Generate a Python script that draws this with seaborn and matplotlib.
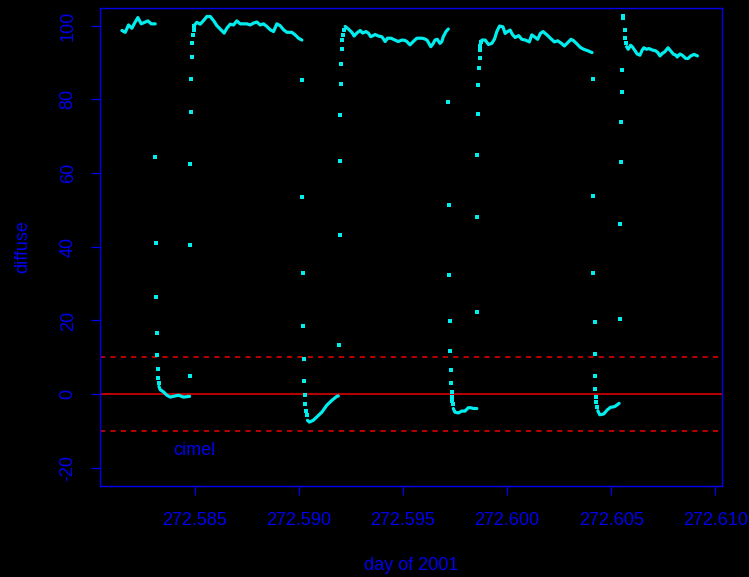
import numpy as np
import pandas as pd
import matplotlib
matplotlib.use("Agg")
import matplotlib.pyplot as plt
import seaborn as sns

# dense runs of samples (shadowband open / occulted)
top_1_day = [272.58151, 272.58167, 272.58183, 272.58199, 272.58212, 272.58228,
             272.58244, 272.58260, 272.58276, 272.58292, 272.58311]
top_1_diffuse = [98.7, 98.2, 100.2, 99.3, 100.7, 102.2, 100.5, 100.9, 101.3, 100.5, 100.5]

dip_1_day = [272.58329, 272.58335, 272.58351, 272.58367, 272.58383, 272.58399,
             272.58423, 272.58447, 272.58476]
dip_1_diffuse = [2.1, 1.2, 0.6, -0.3, -0.8, -0.6, -0.3, -0.8, -0.6]

top_2_day = [272.58500, 272.58511, 272.58527, 272.58543, 272.58559, 272.58575,
             272.58591, 272.58607, 272.58623, 272.58642, 272.58655, 272.58671,
             272.58687, 272.58703, 272.58719, 272.58751, 272.58767, 272.58783,
             272.58799, 272.58815, 272.58831, 272.58847, 272.58863, 272.58879,
             272.58895, 272.58911, 272.58927, 272.58943, 272.58967, 272.58983,
             272.58999, 272.59015]
top_2_diffuse = [100.2, 100.9, 100.4, 101.4, 102.5, 102.5, 101.4, 100.0, 99.1, 98.0,
                 99.3, 100.4, 100.2, 101.3, 100.5, 100.5, 100.2, 100.7, 101.0, 100.2,
                 100.5, 99.8, 98.9, 98.4, 100.5, 100.0, 98.9, 98.2, 98.2, 97.5,
                 96.6, 96.1]

dip_2_day = [272.59042, 272.59051, 272.59070, 272.59094, 272.59111, 272.59135,
             272.59159, 272.59183, 272.59190]
dip_2_diffuse = [-7.1, -7.6, -7.1, -5.8, -4.9, -3.0, -1.7, -0.6, -0.5]

top_3_day = [272.59223, 272.59238, 272.59255, 272.59266, 272.59279, 272.59295,
             272.59307, 272.59323, 272.59334, 272.59346, 272.59367, 272.59382,
             272.59399, 272.59415, 272.59426, 272.59443, 272.59462, 272.59478,
             272.59495, 272.59510, 272.59519, 272.59534, 272.59550, 272.59567,
             272.59591, 272.59606, 272.59617, 272.59634, 272.59646, 272.59654,
             272.59665, 272.59678, 272.59687, 272.59694, 272.59707, 272.59718]
top_3_diffuse = [99.8, 99.1, 98.2, 97.2, 98.0, 98.7, 98.0, 98.4, 98.0, 97.0,
                 97.6, 97.2, 97.0, 95.7, 96.6, 96.6, 96.1, 95.7, 96.1, 96.0,
                 95.7, 94.8, 95.7, 96.6, 96.6, 96.4, 96.0, 94.3, 95.2, 96.1,
                 96.3, 95.2, 95.7, 97.0, 98.4, 99.1]

dip_3_day = [272.59742, 272.59750, 272.59766, 272.59783, 272.59798, 272.59814,
             272.59826, 272.59838, 272.59855]
dip_3_diffuse = [-3.9, -4.9, -5.1, -4.6, -4.6, -3.7, -3.7, -3.9, -3.9]

top_4_day = [272.59879, 272.59895, 272.59911, 272.59927, 272.59940, 272.59951,
             272.59964, 272.59980, 272.59991, 272.60002, 272.60015, 272.60026,
             272.60039, 272.60056, 272.60071, 272.60088, 272.60107, 272.60119,
             272.60136, 272.60147, 272.60160, 272.60173, 272.60192, 272.60208,
             272.60227, 272.60243, 272.60261, 272.60275, 272.60288, 272.60307,
             272.60320, 272.60333, 272.60352, 272.60368, 272.60388, 272.60408]
top_4_diffuse = [96.1, 96.1, 94.9, 95.2, 96.4, 98.4, 99.9, 99.7, 97.9, 98.4,
                 98.8, 97.6, 96.8, 97.3, 96.3, 96.1, 95.6, 97.5, 96.8, 96.3,
                 97.9, 98.4, 97.5, 96.6, 95.6, 95.9, 95.2, 94.5, 95.2, 96.3,
                 95.9, 95.2, 94.1, 93.6, 93.2, 92.7]

dip_4_day = [272.60436, 272.60445, 272.60464, 272.60481, 272.60496, 272.60516,
             272.60529, 272.60538]
dip_4_diffuse = [-4.5, -5.6, -5.4, -4.3, -3.6, -3.4, -2.9, -2.5]

top_5_day = [272.60574, 272.60582, 272.60593, 272.60601, 272.60612, 272.60625,
             272.60638, 272.60649, 272.60657, 272.60670, 272.60681, 272.60697,
             272.60713, 272.60724, 272.60734, 272.60746, 272.60757, 272.60773,
             272.60785, 272.60798, 272.60810, 272.60817, 272.60830, 272.60841,
             272.60858, 272.60869, 272.60882, 272.60898, 272.60914]
top_5_diffuse = [94.3, 93.6, 94.7, 94.3, 93.4, 92.3, 92.0, 93.4, 94.0, 93.6,
                 93.8, 93.4, 93.2, 92.7, 91.8, 92.5, 92.9, 94.0, 93.2, 92.3,
                 92.0, 91.5, 92.3, 92.0, 91.1, 91.1, 91.8, 92.2, 91.8]

# sparse samples during the band transitions
edge_day = [272.58312, 272.58314, 272.58316, 272.58318, 272.58321, 272.58324,
            272.58326, 272.58327,
            272.58477, 272.58479, 272.58480, 272.58482, 272.58485, 272.58487,
            272.58488, 272.58493, 272.58495, 272.58497,
            272.59016, 272.59018, 272.59019, 272.59021, 272.59026, 272.59027,
            272.59031, 272.59032, 272.59035, 272.59039,
            272.59194, 272.59197, 272.59199, 272.59200, 272.59202, 272.59205,
            272.59208, 272.59209, 272.59212, 272.59215,
            272.59719, 272.59720, 272.59722, 272.59726, 272.59727, 272.59730,
            272.59733, 272.59735, 272.59736, 272.59737, 272.59739,
            272.59856, 272.59857, 272.59858, 272.59859, 272.59863, 272.59866,
            272.59869, 272.59870, 272.59871, 272.59874,
            272.60412, 272.60413, 272.60414, 272.60420, 272.60421, 272.60423,
            272.60424, 272.60426, 272.60429, 272.60433,
            272.60540, 272.60542, 272.60548, 272.60549, 272.60550, 272.60553,
            272.60558, 272.60559, 272.60565, 272.60567, 272.60571]
edge_diffuse = [64.4, 41.0, 26.3, 16.7, 10.5, 6.7, 4.3, 3.0,
                4.8, 40.4, 62.4, 76.6, 85.5, 91.5, 95.4, 97.6, 98.9, 99.8,
                85.3, 53.6, 33.0, 18.5, 9.5, 3.6, -0.3, -2.8, -4.6, -5.8,
                13.3, 43.1, 63.3, 75.8, 84.2, 89.7, 93.7, 96.0, 97.6, 98.7,
                79.4, 51.3, 32.3, 19.9, 11.7, 6.5, 3.0, 0.6, -0.8, -1.9, -2.8,
                22.2, 48.0, 65.0, 75.9, 83.8, 88.5, 91.2, 93.4, 94.5, 95.6,
                85.5, 53.7, 33.0, 19.6, 10.8, 5.0, 1.5, -0.7, -2.2, -3.4,
                20.4, 46.1, 62.9, 73.8, 82.0, 88.0, 102.7, 102.2, 98.7, 96.6, 95.2]

x_ticks = [272.585, 272.590, 272.595, 272.600, 272.605, 272.610]
y_ticks = [-20, 0, 20, 40, 60, 80, 100]
zero_line = 0
band_limits = [-10, 10]

runs = {
    "top_1": (top_1_day, top_1_diffuse), "dip_1": (dip_1_day, dip_1_diffuse),
    "top_2": (top_2_day, top_2_diffuse), "dip_2": (dip_2_day, dip_2_diffuse),
    "top_3": (top_3_day, top_3_diffuse), "dip_3": (dip_3_day, dip_3_diffuse),
    "top_4": (top_4_day, top_4_diffuse), "dip_4": (dip_4_day, dip_4_diffuse),
    "top_5": (top_5_day, top_5_diffuse),
}
dense = pd.concat(
    [pd.DataFrame({"day": d, "diffuse": v, "run": k}) for k, (d, v) in runs.items()],
    ignore_index=True,
)
edges = pd.DataFrame({"day": edge_day, "diffuse": edge_diffuse})

sns.set_theme(style="ticks")
plt.rcParams["font.family"] = ["Liberation Sans", "DejaVu Sans"]
fg = "#0000ee"
trace = "#00eeee"

fig = plt.figure(figsize=(7.49, 5.77), dpi=100, facecolor="black")
ax = fig.add_axes([100 / 749, 1 - 485.5 / 577, 622 / 749, 477.5 / 577])
ax.set_facecolor("black")

ax.axhline(zero_line, color="#ee0000", lw=1.1, zorder=1)
for b in band_limits:
    ax.axhline(b, color="#ee0000", lw=1.1, ls=(0, (3.4, 3.4)), zorder=1)

sns.lineplot(data=dense, x="day", y="diffuse", units="run", estimator=None,
             sort=False, color=trace, lw=2.3, ax=ax, zorder=3)
sns.scatterplot(data=edges, x="day", y="diffuse", color=trace, marker="s",
                s=5, linewidth=0, ax=ax, zorder=3)

ax.text(272.585, -15.3, "cimel", color=fg, fontsize=13, ha="center", va="center")

ax.set_xlim(272.58046, 272.61032)
ax.set_ylim(-24.8, 104.8)
ax.set_xticks(x_ticks)
ax.set_xticklabels([f"{t:.3f}" for t in x_ticks])
ax.set_yticks(y_ticks)
ax.set_yticklabels([str(t) for t in y_ticks])

for sp in ax.spines.values():
    sp.set_visible(True)
    sp.set_color(fg)
    sp.set_linewidth(1.0)
ax.tick_params(axis="both", direction="out", length=6.8, width=0.9, color=fg,
               labelcolor=fg, labelsize=13)
ax.tick_params(axis="x", pad=12)
ax.tick_params(axis="y", pad=10)
for lbl in ax.get_yticklabels():
    lbl.set_rotation(90)
    lbl.set_va("center")

ax.set_xlabel("day of 2001", color=fg, fontsize=13)
ax.set_ylabel("diffuse", color=fg, fontsize=13)
ax.xaxis.set_label_coords(0.5, (485.5 - 566) / 477.5)
ax.xaxis.label.set_va("center")
ax.yaxis.set_label_coords((23 - 100) / 622, 0.5)
ax.yaxis.label.set_va("center")

fig.savefig("out.png", dpi=100, facecolor="black")
